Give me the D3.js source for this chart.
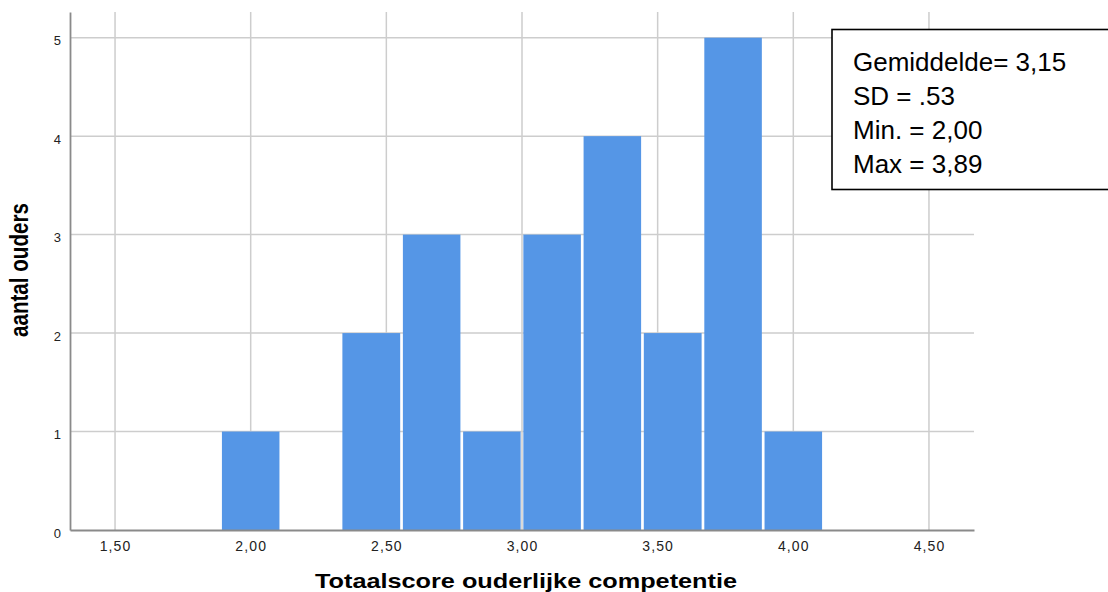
<!DOCTYPE html>
<html>
<head>
<meta charset="utf-8">
<script src="https://cdn.jsdelivr.net/npm/d3@7"></script>
<style>
  html, body { margin: 0; padding: 0; background: #fff; }
  svg { display: block; }
</style>
</head>
<body>
<svg id="chart" width="1108" height="592"></svg>
<script>
// ---- data ----
const binEdges = [1.889, 2.111, 2.333, 2.556, 2.778, 3.000, 3.222, 3.444, 3.667, 3.889, 4.111];
const counts = [1, 0, 2, 3, 1, 3, 4, 2, 5, 1];
const xTicks = [1.5, 2.0, 2.5, 3.0, 3.5, 4.0, 4.5];
const yTicks = [0, 1, 2, 3, 4, 5];
const xTitle = "Totaalscore ouderlijke competentie";
const yTitle = "aantal ouders";
const statLines = ["Gemiddelde= 3,15", "SD = .53", "Min. = 2,00", "Max = 3,89"];

// ---- layout ----
const plotL = 70, plotR = 974, plotT = 12, plotB = 530;
const font = "'Liberation Sans', Arial, sans-serif";

const svg = d3.select("#chart");

const x = d3.scaleLinear().domain([1.334, 4.666]).range([plotL, plotR]);
const y = d3.scaleLinear().domain([0, 5.261]).range([plotB, plotT]);

// gridlines
const grid = svg.append("g");
grid.selectAll("line.v").data(xTicks).join("line").attr("class", "v")
  .attr("x1", d => x(d)).attr("x2", d => x(d))
  .attr("y1", plotT).attr("y2", plotB)
  .attr("stroke", "#cdcdcd").attr("stroke-width", 1.5);
grid.selectAll("line.h").data(yTicks.filter(d => d > 0)).join("line").attr("class", "h")
  .attr("x1", plotL).attr("x2", plotR)
  .attr("y1", d => y(d)).attr("y2", d => y(d))
  .attr("stroke", "#cdcdcd").attr("stroke-width", 1.5);

// bars
const bins = counts.map((c, i) => ({x0: binEdges[i], x1: binEdges[i + 1], c}));
const gap = 1.35;
svg.append("g").selectAll("rect").data(bins.filter(d => d.c > 0)).join("rect")
  .attr("x", d => x(d.x0) + gap)
  .attr("width", d => x(d.x1) - x(d.x0) - 2 * gap)
  .attr("y", d => y(d.c))
  .attr("height", d => y(0) - y(d.c))
  .attr("fill", "#5596e6");

// axes
const fmt = d => d.toFixed(2).replace(".", ",");
const xAxis = svg.append("g").attr("transform", `translate(0,${plotB})`)
  .call(d3.axisBottom(x).tickValues(xTicks).tickSize(0).tickPadding(11).tickFormat(fmt));
xAxis.select(".domain").attr("stroke", "#8a8a8a").attr("stroke-width", 1.8);
xAxis.selectAll("text").attr("font-family", font).attr("font-size", 14)
  .attr("letter-spacing", "1.1px").attr("fill", "#222");

const yAxis = svg.append("g").attr("transform", `translate(${plotL},0)`)
  .call(d3.axisLeft(y).tickValues(yTicks).tickSize(0).tickPadding(9).tickFormat(d3.format("d")));
yAxis.select(".domain").attr("stroke", "#8a8a8a").attr("stroke-width", 1.8);
yAxis.selectAll("text").attr("font-family", font).attr("font-size", 13)
  .attr("fill", "#222").attr("dy", "0.55em");

// titles
svg.append("text")
  .attr("x", 526).attr("y", 588)
  .attr("text-anchor", "middle")
  .attr("font-family", font).attr("font-weight", "bold").attr("font-size", 21)
  .attr("textLength", 422).attr("lengthAdjust", "spacingAndGlyphs")
  .attr("fill", "#000")
  .text(xTitle);

svg.append("text")
  .attr("transform", "translate(27.5,270) rotate(-90)")
  .attr("text-anchor", "middle")
  .attr("font-family", font).attr("font-weight", "bold").attr("font-size", 26)
  .attr("textLength", 134).attr("lengthAdjust", "spacingAndGlyphs")
  .attr("fill", "#000")
  .text(yTitle);

// stats box
svg.append("rect")
  .attr("x", 832).attr("y", 29.5)
  .attr("width", 290).attr("height", 160)
  .attr("fill", "#fff").attr("stroke", "#000").attr("stroke-width", 1.6);
svg.append("g").selectAll("text").data(statLines).join("text")
  .attr("x", 853).attr("y", (d, i) => 70.5 + i * 34.2)
  .attr("font-family", font).attr("font-size", 26)
  .attr("fill", "#000")
  .text(d => d);
</script>
</body>
</html>
